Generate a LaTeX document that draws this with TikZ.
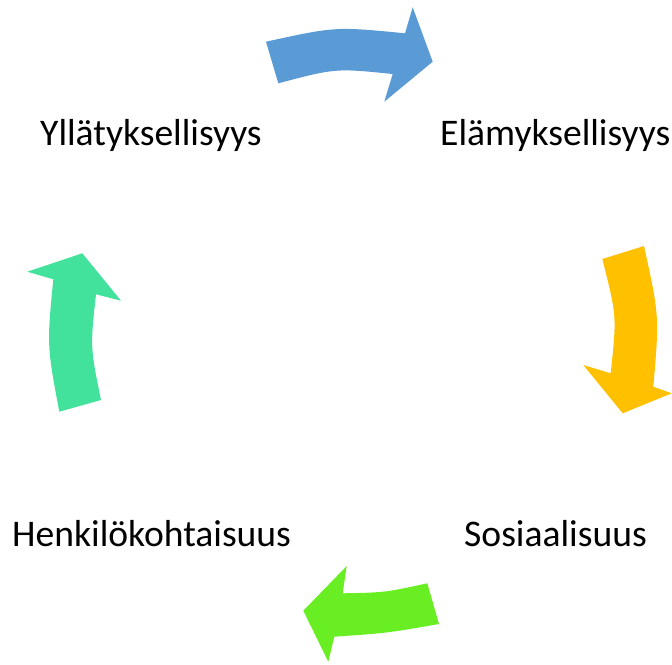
\documentclass[tikz,border=0pt]{standalone}
\usepackage{fontspec}
\setmainfont{Carlito}
\definecolor{cblue}{HTML}{5B9BD5}
\definecolor{cyellow}{HTML}{FFC000}
\definecolor{cgreen}{HTML}{68EE22}
\definecolor{cteal}{HTML}{42E29C}
\begin{document}
\begin{tikzpicture}[x=1pt,y=-1pt,
  lbl/.style={anchor=base west,inner sep=0pt,font=\fontsize{37.6}{45}\selectfont}]
\useasboundingbox (0,0) rectangle (672,664);
% blue arrow
\fill[cblue] (266,41.7) .. controls (335.5,26.5) .. (405,33.3) -- (412.7,7.3) -- (432.7,61.7) -- (384.3,101.7) -- (392.7,74) .. controls (335.5,68.2) .. (278.3,83.3) -- cycle;
% yellow arrow
\fill[cyellow] (602.3,259) -- (644,246) .. controls (659.4,316.4) .. (653.3,386.7) -- (671.7,393.3) -- (622.7,413.3) -- (583.3,365) -- (610.7,373.3) .. controls (616.8,315.9) .. (602.3,259) -- cycle;
% green arrow
\fill[cgreen] (427.3,583.3) .. controls (385,592.5) .. (342.7,593.3) -- (346.7,566) -- (303.3,610.7) -- (328.3,661.7) -- (334.3,636.7) .. controls (386.7,633.1) .. (439,624) -- cycle;
% teal arrow
\fill[cteal] (59.3,411.7) -- (101,400) .. controls (90.2,347.1) .. (96,294.3) -- (121,300.7) -- (82.3,253.3) -- (27.3,271.7) -- (53.3,279.3) .. controls (46.9,345.5) .. (59.3,411.7) -- cycle;
% labels
\node[lbl] (yll) at (40,145) {Yllätyksellisyys};
\node[lbl] (ela) at (440,145) {Elämyksellisyys};
\node[lbl] (hen) at (12,546.7) {Henkilökohtaisuus};
\node[lbl] (sos) at (464,546.7) {Sosiaalisuus};
\end{tikzpicture}
\end{document}
